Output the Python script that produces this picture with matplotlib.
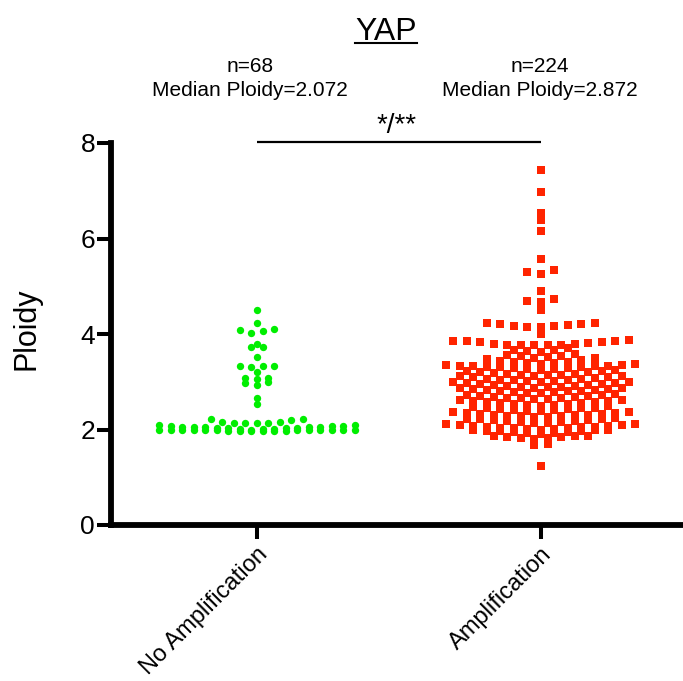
import numpy as np
import matplotlib
matplotlib.use("Agg")
import matplotlib.pyplot as plt
from matplotlib.lines import Line2D

plt.rcParams['font.family'] = ['Liberation Sans', 'DejaVu Sans']

# ---------------- data ----------------
title = "YAP"
categories = ["No Amplification", "Amplification"]
n_labels = ["n=68", "n=224"]
median_labels = ["Median Ploidy=2.072", "Median Ploidy=2.872"]
sig_label = "*/**"
yticks = [0, 2, 4, 6, 8]

no_amp_ploidy = [
    4.51, 4.22, 4.10, 4.08, 4.06, 4.02, 3.80, 3.73, 3.72, 3.52,
    3.34, 3.34, 3.33, 3.30, 3.20, 3.07, 3.07, 3.06, 2.99, 2.97,
    2.94, 2.65, 2.53,
    2.21, 2.21, 2.20, 2.16, 2.15, 2.14, 2.14, 2.14, 2.13,
    1.96, 1.97, 1.97, 1.98, 1.98, 1.98, 1.99, 1.99, 1.99, 1.99,
    1.98, 1.97, 1.96, 1.98, 1.99, 1.97, 1.98, 1.99,
    2.00, 2.01, 2.02, 2.02, 2.03, 2.03, 2.04, 2.04, 2.05, 2.05,
    2.05, 2.06, 2.06, 2.07, 2.07, 2.08, 2.09, 2.10,
]

amp_ploidy = [
    7.44, 6.98, 6.54, 6.39, 6.16, 5.58, 5.33, 5.30, 5.26, 4.91,
    4.74, 4.70, 4.68, 4.50,
    4.24, 4.23, 4.21, 4.20, 4.19, 4.17, 4.16, 4.15, 4.14,
    3.99,
    3.87, 3.86, 3.86, 3.85, 3.84, 3.83, 3.81, 3.80, 3.79, 3.78, 3.78, 3.77, 3.76, 3.76,
    3.70, 3.67, 3.66, 3.64, 3.63,
    3.58, 3.56, 3.54, 3.53, 3.51, 3.50,
    3.49, 3.47, 3.45, 3.43, 3.42, 3.41, 3.40, 3.39, 3.38,
    3.37, 3.36, 3.35, 3.34, 3.33, 3.33, 3.32, 3.31, 3.30, 3.30, 3.29, 3.28, 3.27, 3.26, 3.25,
    3.24, 3.23, 3.22, 3.21, 3.20, 3.18, 3.17, 3.16, 3.15, 3.15, 3.14, 3.13,
    3.12, 3.11, 3.10, 3.09, 3.07, 3.06, 3.05, 3.04, 3.04, 3.03, 3.02, 3.01, 3.00,
    2.99, 2.99, 2.98, 2.97, 2.96, 2.95, 2.94, 2.93, 2.92, 2.91, 2.90, 2.89, 2.88, 2.876,
    2.868, 2.86, 2.85, 2.84, 2.83, 2.82, 2.81, 2.81, 2.80, 2.79, 2.78, 2.77, 2.76,
    2.74, 2.73, 2.72, 2.71, 2.70, 2.69, 2.68, 2.67, 2.66, 2.65, 2.64, 2.63,
    2.62, 2.61, 2.60, 2.59, 2.58, 2.57, 2.56, 2.55, 2.54, 2.53, 2.52, 2.51, 2.50,
    2.49, 2.47, 2.46, 2.45, 2.44, 2.43, 2.42, 2.41, 2.40, 2.39, 2.38,
    2.37, 2.36, 2.35, 2.34, 2.33, 2.32, 2.31, 2.30, 2.30, 2.29, 2.28, 2.28, 2.27, 2.26,
    2.24, 2.23, 2.22, 2.21, 2.20, 2.19, 2.18, 2.17, 2.16, 2.15, 2.14, 2.13,
    2.12, 2.11, 2.10, 2.09, 2.08, 2.07, 2.06, 2.06, 2.05, 2.04, 2.03, 2.03, 2.02, 2.01, 2.00,
    1.99, 1.98, 1.98, 1.97, 1.96, 1.96, 1.95, 1.94, 1.93, 1.92, 1.90,
    1.87, 1.86, 1.86, 1.85, 1.84, 1.83, 1.82, 1.80,
    1.69, 1.67,
    1.24,
]


def column_layout(values, bin_h, spacing):
    """GraphPad-like column scatter: points grouped in y bins, spread centre-out."""
    vals = np.asarray(values, dtype=float)
    bins = np.floor(vals / bin_h + 1e-9).astype(int)
    offs = np.zeros(len(vals))
    for b in np.unique(bins):
        idx = np.where(bins == b)[0]
        idx = idx[np.argsort(vals[idx], kind="stable")]
        n = len(idx)
        slots = np.arange(n) - (n - 1) / 2.0
        order = sorted(slots, key=lambda s: (abs(s), s))
        for i, s in zip(idx, order):
            offs[i] = s * spacing
    return offs


# ---------------- figure ----------------
W, H = 683, 681
fig = plt.figure(figsize=(W / 100, H / 100), dpi=100)
ax = fig.add_axes([111 / W, 156 / H, 572 / W, 382 / H])

green = "#00ee00"
red = "#ff2400"

gx = 0 + column_layout(no_amp_ploidy, 0.125, 11.5 / 284)
rx = 1 + column_layout(amp_ploidy, 0.125, 13.5 / 284)
ax.scatter(gx, no_amp_ploidy, s=28, marker="o", color=green, linewidths=0, zorder=3, clip_on=False)
ax.scatter(rx, amp_ploidy, s=33, marker="s", color=red, linewidths=0, zorder=3, clip_on=False)

ax.set_xlim(-0.514, 1.5)
ax.set_ylim(0, 8)
ax.set_yticks(yticks)
ax.set_yticklabels([str(t) for t in yticks], fontsize=19)
ax.set_xticks([0, 1])
ax.set_xticklabels(categories, fontsize=17, rotation=45, ha="right", va="top",
                   rotation_mode="anchor")

for side in ("top", "right"):
    ax.spines[side].set_visible(False)
for side in ("left", "bottom"):
    ax.spines[side].set_linewidth(4.2)
    ax.spines[side].set_capstyle("projecting")
ax.tick_params(axis="both", length=10, width=2.9, color="black")
ax.tick_params(axis="y", pad=1.5)
ax.tick_params(axis="x", pad=3)

ax.set_ylabel("Ploidy", fontsize=22)
ax.yaxis.set_label_coords((42 - 111) / 572, (681 - 328.5 - 156) / 382)

# annotations above groups
for xc, dx, nl, ml in zip([0, 1], [-0.025, -0.005], n_labels, median_labels):
    ax.annotate(nl, xy=(xc + dx, 1 - 67 / H), xycoords=("data", "figure fraction"),
                ha="center", va="center", fontsize=15)
    ax.annotate(ml, xy=(xc + dx, 1 - 91 / H), xycoords=("data", "figure fraction"),
                ha="center", va="center", fontsize=15)

# significance bar
ax.plot([0, 1], [8.02, 8.02], color="black", lw=1.6, clip_on=False, solid_capstyle="butt")
ax.annotate(sig_label, xy=(0.49, 1 - 126 / H), xycoords=("data", "figure fraction"),
            ha="center", va="center", fontsize=20)

# underlined title
t = fig.text(386 / W, 1 - 40 / H, title, ha="center", va="baseline", fontsize=23)
fig.canvas.draw()
bb = t.get_window_extent(renderer=fig.canvas.get_renderer())
fig.add_artist(Line2D([bb.x0 / W, bb.x1 / W], [1 - 42.5 / H, 1 - 42.5 / H],
                      transform=fig.transFigure, color="black", lw=1.5))

fig.savefig("out.png", dpi=100)
